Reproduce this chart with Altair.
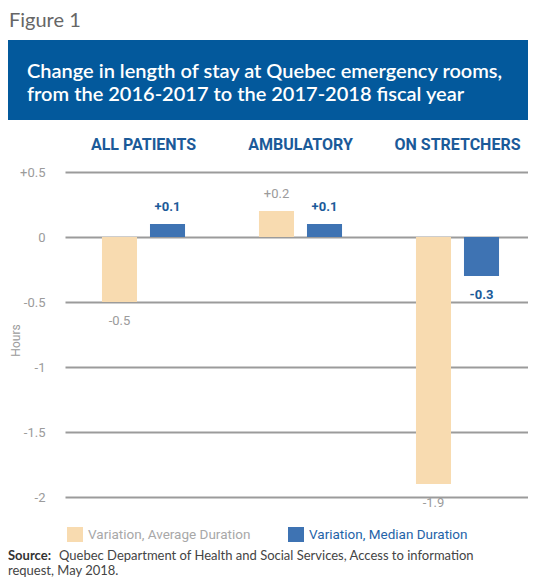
import altair as alt
import pandas as pd

groups = ["ALL PATIENTS", "AMBULATORY", "ON STRETCHERS"]
series = ["Variation, Average Duration", "Variation, Median Duration"]
avg_values = [-0.5, 0.2, -1.9]
median_values = [0.1, 0.1, -0.3]
y_ticks = [-2, -1.5, -1, -0.5, 0, 0.5]

rows = []
for g, a, m in zip(groups, avg_values, median_values):
    rows.append({"group": g, "series": series[0], "value": a})
    rows.append({"group": g, "series": series[1], "value": m})
df = pd.DataFrame(rows)

TAN = "#F8DBB0"
BLUE_BAR = "#3E73B3"
BLUE_TEXT = "#1B5A99"
GRAY = "#9B9B9B"
HEADER = "#03599C"

PLOT_W = 467
PLOT_H = 325

x_scale = alt.Scale(range=[4, 475], paddingInner=0, paddingOuter=0)
xo_scale = alt.Scale(paddingInner=0.27, paddingOuter=0.77)
y_scale = alt.Scale(domain=[-2, 0.5], nice=False, zero=False)

x_enc = alt.X("group:N", sort=groups, scale=x_scale, axis=None)
xo_enc = alt.XOffset("series:N", sort=series, scale=xo_scale)

label_expr = "(datum.value > 0 ? '+' : datum.value < 0 ? '-' : '') + format(abs(datum.value), '~g')"

bars = alt.Chart(df).mark_bar().encode(
    x=x_enc,
    xOffset=xo_enc,
    y=alt.Y(
        "value:Q",
        scale=y_scale,
        axis=alt.Axis(
            values=y_ticks, title="Hours", grid=True, gridColor=GRAY, gridWidth=2,
            domain=False, ticks=False, labelColor=GRAY, labelFont="Roboto",
            labelFontSize=13, labelPadding=16, labelExpr=label_expr,
            titleColor=GRAY, titleFont="Roboto", titleFontSize=12,
            titleFontWeight="normal", titleX=-46, titleY=168, titleAngle=270,
            titleAlign="center", titleBaseline="middle",
        ),
    ),
    color=alt.Color("series:N", scale=alt.Scale(domain=series, range=[TAN, BLUE_BAR]), legend=None),
)


def value_labels(ser, positive, color, weight):
    cond = "datum.value > 0" if positive else "datum.value < 0"
    return (
        alt.Chart(df)
        .transform_filter(alt.datum.series == ser)
        .transform_filter(cond)
        .transform_calculate(
            label="(datum.value > 0 ? '+' : '-') + format(abs(datum.value), '.1f')"
        )
        .mark_text(
            font="Roboto", fontSize=13, fontWeight=weight, color=color,
            baseline="middle", dy=-17 if positive else 19,
        )
        .encode(x=x_enc, xOffset=xo_enc, y=alt.Y("value:Q", scale=y_scale), text="label:N")
    )


labels = [
    value_labels(series[0], True, GRAY, "normal"),
    value_labels(series[0], False, GRAY, "normal"),
    value_labels(series[1], True, BLUE_TEXT, "bold"),
    value_labels(series[1], False, BLUE_TEXT, "bold"),
]

group_labels = alt.Chart(pd.DataFrame({"group": groups})).mark_text(
    font="Roboto", fontSize=16, fontWeight="bold", color=BLUE_TEXT, baseline="middle"
).encode(x=alt.X("group:N", sort=groups, scale=x_scale, axis=None), y=alt.value(-27), text="group:N")

one = alt.Data(values=[{}])

fig_text = alt.Chart(one).mark_text(
    text="Figure 1", align="left", baseline="middle", font="Lato", fontSize=20, color="#666666"
).encode(x=alt.value(-52), y=alt.value(-151))

box = alt.Chart(one).mark_rect(color=HEADER).encode(
    x=alt.value(-60), x2=alt.value(480), y=alt.value(-132), y2=alt.value(-52)
)

title1 = alt.Chart(one).mark_text(
    text="Change in length of stay at Quebec emergency rooms,", align="left",
    baseline="middle", font="Lato", fontSize=20, fontWeight=600, color="white"
).encode(x=alt.value(-34), y=alt.value(-100))

title2 = alt.Chart(one).mark_text(
    text="from the 2016-2017 to the 2017-2018 fiscal year", align="left",
    baseline="middle", font="Lato", fontSize=20, fontWeight=600, color="white"
).encode(x=alt.value(-34), y=alt.value(-77))

leg_sw1 = alt.Chart(one).mark_rect(color=TAN).encode(
    x=alt.value(6), x2=alt.value(22), y=alt.value(355), y2=alt.value(370)
)
leg_sw2 = alt.Chart(one).mark_rect(color=BLUE_BAR).encode(
    x=alt.value(227), x2=alt.value(243), y=alt.value(355), y2=alt.value(370)
)
leg_t1 = alt.Chart(one).mark_text(
    text=series[0], align="left", baseline="middle", font="Roboto", fontSize=13.5, color="#A8A8A8"
).encode(x=alt.value(27), y=alt.value(363))
leg_t2 = alt.Chart(one).mark_text(
    text=series[1], align="left", baseline="middle", font="Roboto", fontSize=13.5, color="#1F63A8"
).encode(x=alt.value(248), y=alt.value(363))

src_b = alt.Chart(one).mark_text(
    text="Source:", align="left", baseline="alphabetic", font="Lato", fontSize=13,
    fontWeight="bold", color="#333333"
).encode(x=alt.value(-53), y=alt.value(388))
src_1 = alt.Chart(one).mark_text(
    text="Quebec Department of Health and Social Services, Access to information",
    align="left", baseline="alphabetic", font="Lato", fontSize=13, color="#444444"
).encode(x=alt.value(-2), y=alt.value(388))
src_2 = alt.Chart(one).mark_text(
    text="request, May 2018.", align="left", baseline="alphabetic", font="Lato",
    fontSize=13, color="#444444"
).encode(x=alt.value(-53), y=alt.value(403))

chart = alt.layer(
    bars, *labels, group_labels, fig_text, box, title1, title2,
    leg_sw1, leg_sw2, leg_t1, leg_t2, src_b, src_1, src_2,
).properties(
    width=PLOT_W,
    height=PLOT_H,
    autosize=alt.AutoSizeParams(type="none"),
    padding={"left": 53, "top": 164, "right": 0, "bottom": 81},
    background="white",
).configure_view(stroke=None)

chart.save("out.html", embed_options={"renderer": "svg", "actions": False})
